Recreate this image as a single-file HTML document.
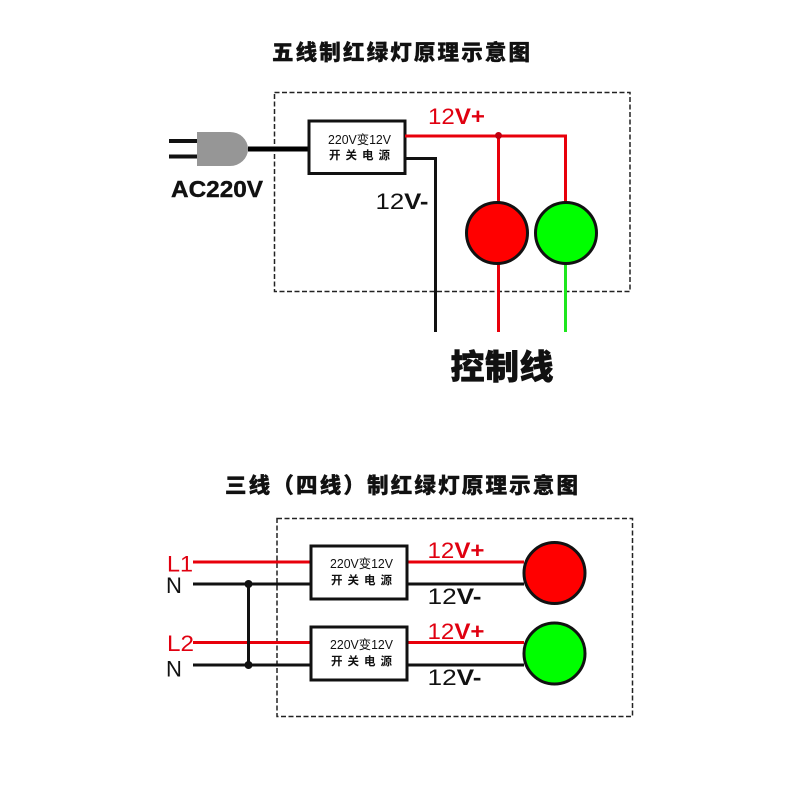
<!DOCTYPE html>
<html><head><meta charset="utf-8"><style>
html,body{margin:0;padding:0;background:#fff;width:800px;height:800px;overflow:hidden}
svg{display:block}
text{font-family:"Liberation Sans","Noto Sans CJK SC",sans-serif}
.t{font-family:"Noto Sans CJK SC",sans-serif;font-weight:900;stroke:#111;stroke-width:.35px}
.b{font-weight:700}
.s{font-size:12.5px;fill:#111}
.c{font-family:"Noto Sans CJK SC",sans-serif;font-size:11.5px;font-weight:700;fill:#111}
.v{font-size:22px}
</style></head><body>
<svg width="800" height="800" viewBox="0 0 800 800" xmlns="http://www.w3.org/2000/svg">
<rect width="800" height="800" fill="#fff"/>
<text class="t" x="272" y="60" font-size="21.500" textLength="258" fill="#111">五线制红绿灯原理示意图</text>
<rect x="274.500" y="92.500" width="355.500" height="199" fill="none" stroke="#222" stroke-width="1.500" stroke-dasharray="5 2.500"/>
<path d="M169 141H198M169 156.500H198" stroke="#111" stroke-width="4" fill="none"/>
<path d="M197 132H230A18 17 0 0 1 248 149A18 17 0 0 1 230 166H197Z" fill="#969696"/>
<path d="M248 149H309" stroke="#000" stroke-width="5"/>
<rect x="309" y="121" width="96" height="52.500" fill="#fff" stroke="#111" stroke-width="3"/>
<text class="s" x="328" y="144" textLength="63" lengthAdjust="spacingAndGlyphs">220V变12V</text>
<text class="c" x="329" y="159" textLength="61">开 关 电 源</text>
<path d="M405 136H565.500V204M498.500 136V204M498.500 262V332" stroke="#e8000b" stroke-width="3" fill="none"/>
<circle cx="498.500" cy="135.500" r="3.500" fill="#c00010"/>
<path d="M405 158.500H435.500V332" stroke="#111" stroke-width="3" fill="none"/>
<path d="M565.500 262V332" stroke="#1ee61e" stroke-width="3"/>
<circle cx="497" cy="233" r="30.500" fill="#f00" stroke="#111" stroke-width="3"/>
<circle cx="566" cy="233" r="30.500" fill="#0f0" stroke="#111" stroke-width="3"/>
<text class="v" x="428" y="124" fill="#e00010" textLength="57" lengthAdjust="spacingAndGlyphs">12<tspan class="b">V+</tspan></text>
<text class="v" x="375.500" y="209" fill="#111" textLength="53" lengthAdjust="spacingAndGlyphs">12<tspan class="b">V-</tspan></text>
<text class="b" x="171" y="197" font-size="23" textLength="92" lengthAdjust="spacingAndGlyphs" fill="#111" stroke="#111" stroke-width=".4">AC220V</text>
<text class="t" x="450.500" y="379" font-size="34" textLength="103" fill="#111" style="stroke-width:.6px">控制线</text>

<text class="t" x="225" y="493" font-size="21.500" textLength="353" fill="#111">三线（四线）制红绿灯原理示意图</text>
<rect x="277" y="518.500" width="355.500" height="198" fill="none" stroke="#222" stroke-width="1.500" stroke-dasharray="5 2.500"/>
<path d="M193 562H311M193 642.500H311M407 562H524M407 642.500H524" stroke="#e8000b" stroke-width="3" fill="none"/>
<path d="M193 584H311M193 665H311M407 584H524M407 665H524M248.500 584V665" stroke="#111" stroke-width="3" fill="none"/>
<circle cx="248.500" cy="584" r="4" fill="#111"/>
<circle cx="248.500" cy="665" r="4" fill="#111"/>
<rect x="311" y="546" width="96" height="53" fill="#fff" stroke="#111" stroke-width="3"/>
<rect x="311" y="627" width="96" height="53" fill="#fff" stroke="#111" stroke-width="3"/>
<text class="s" x="330" y="568" textLength="63" lengthAdjust="spacingAndGlyphs">220V变12V</text>
<text class="c" x="331" y="584" textLength="61">开 关 电 源</text>
<text class="s" x="330" y="649" textLength="63" lengthAdjust="spacingAndGlyphs">220V变12V</text>
<text class="c" x="331" y="665" textLength="61">开 关 电 源</text>
<circle cx="554.500" cy="573" r="30.500" fill="#f00" stroke="#111" stroke-width="3"/>
<circle cx="554.500" cy="653.500" r="30.500" fill="#0f0" stroke="#111" stroke-width="3"/>
<text class="v" x="427.500" y="558" fill="#e00010" textLength="57" lengthAdjust="spacingAndGlyphs">12<tspan class="b">V+</tspan></text>
<text class="v" x="427.500" y="604" fill="#111" textLength="54" lengthAdjust="spacingAndGlyphs">12<tspan class="b">V-</tspan></text>
<text class="v" x="427.500" y="639" fill="#e00010" textLength="57" lengthAdjust="spacingAndGlyphs">12<tspan class="b">V+</tspan></text>
<text class="v" x="427.500" y="685" fill="#111" textLength="54" lengthAdjust="spacingAndGlyphs">12<tspan class="b">V-</tspan></text>
<text class="v" x="167" y="571.500" fill="#e00010" textLength="26" lengthAdjust="spacingAndGlyphs">L1</text>
<text class="v" x="166" y="593" fill="#111">N</text>
<text class="v" x="167" y="651" fill="#e00010" textLength="27" lengthAdjust="spacingAndGlyphs">L2</text>
<text class="v" x="166" y="676.500" fill="#111">N</text>
</svg>
</body></html>
